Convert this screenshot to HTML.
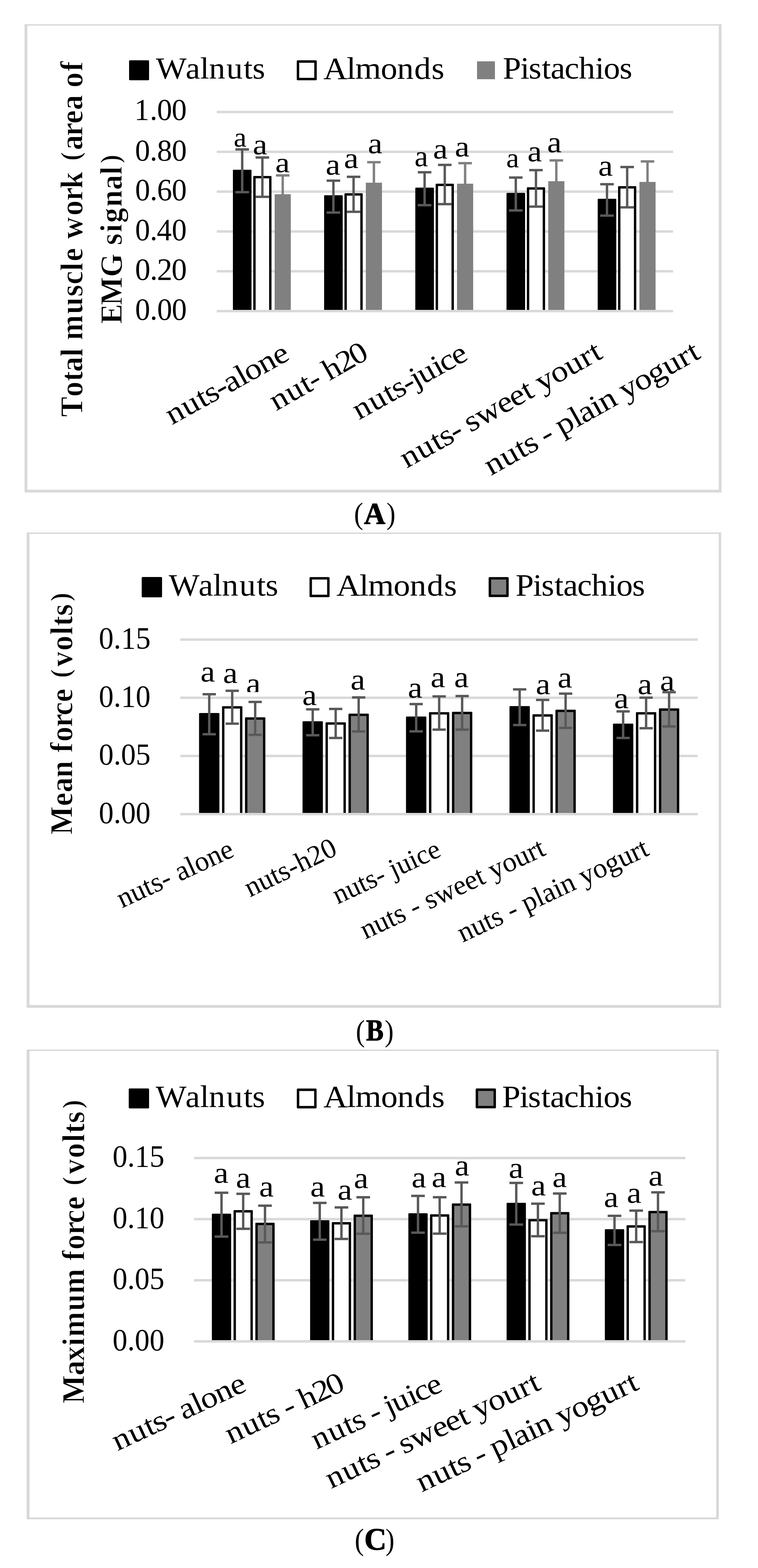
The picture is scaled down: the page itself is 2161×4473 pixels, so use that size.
<!DOCTYPE html><html><head><meta charset="utf-8"><title>Figure</title><style>html,body{margin:0;padding:0;background:#fff;overflow:hidden;}svg{display:block;}</style></head><body><svg width="2161" height="4473" viewBox="0 0 2161 4473" font-family="'Liberation Serif', serif" fill="#000"><defs><clipPath id="c1"><rect x="699.8" y="1933.7" width="47.0" height="40.5"/></clipPath></defs><rect x="70.00" y="69.00" width="1987.00" height="4.00" fill="#d9d9d9"/><rect x="70.00" y="1397.00" width="1987.00" height="8.00" fill="#d9d9d9"/><rect x="70.00" y="69.00" width="8.00" height="1336.00" fill="#d9d9d9"/><rect x="2049.00" y="69.00" width="8.00" height="1336.00" fill="#d9d9d9"/><rect x="618.00" y="316.00" width="1301.00" height="7.00" fill="#d9d9d9"/><rect x="618.00" y="429.60" width="1301.00" height="7.00" fill="#d9d9d9"/><rect x="618.00" y="543.20" width="1301.00" height="7.00" fill="#d9d9d9"/><rect x="618.00" y="656.80" width="1301.00" height="7.00" fill="#d9d9d9"/><rect x="618.00" y="770.40" width="1301.00" height="7.00" fill="#d9d9d9"/><rect x="664.00" y="484.20" width="53.00" height="403.30" fill="#000" rx="2"/><rect x="722.00" y="501.90" width="52.00" height="385.60" fill="#000" rx="2"/><rect x="728.80" y="508.70" width="38.40" height="378.80" fill="#fff"/><rect x="783.00" y="554.10" width="46.00" height="333.40" fill="#808080"/><rect x="924.00" y="557.00" width="53.00" height="330.50" fill="#000" rx="2"/><rect x="982.00" y="551.20" width="52.00" height="336.30" fill="#000" rx="2"/><rect x="988.80" y="558.00" width="38.40" height="329.50" fill="#fff"/><rect x="1043.00" y="521.20" width="46.00" height="366.30" fill="#808080"/><rect x="1184.00" y="535.30" width="53.00" height="352.20" fill="#000" rx="2"/><rect x="1242.00" y="524.00" width="52.00" height="363.50" fill="#000" rx="2"/><rect x="1248.80" y="530.80" width="38.40" height="356.70" fill="#fff"/><rect x="1303.00" y="524.00" width="46.00" height="363.50" fill="#808080"/><rect x="1444.00" y="550.30" width="53.00" height="337.20" fill="#000" rx="2"/><rect x="1502.00" y="534.20" width="52.00" height="353.30" fill="#000" rx="2"/><rect x="1508.80" y="541.00" width="38.40" height="346.50" fill="#fff"/><rect x="1563.00" y="516.90" width="46.00" height="370.60" fill="#808080"/><rect x="1704.00" y="567.10" width="53.00" height="320.40" fill="#000" rx="2"/><rect x="1762.00" y="531.00" width="52.00" height="356.50" fill="#000" rx="2"/><rect x="1768.80" y="537.80" width="38.40" height="349.70" fill="#fff"/><rect x="1823.00" y="519.00" width="46.00" height="368.50" fill="#808080"/><rect x="618.00" y="884.00" width="1301.00" height="7.00" fill="#d9d9d9"/><rect x="687.10" y="426.20" width="6.80" height="122.00" fill="#595959"/><rect x="671.20" y="422.80" width="38.60" height="6.80" fill="#595959"/><rect x="671.20" y="544.80" width="38.60" height="6.80" fill="#595959"/><rect x="744.60" y="449.30" width="6.80" height="112.20" fill="#595959"/><rect x="728.70" y="445.90" width="38.60" height="6.80" fill="#595959"/><rect x="728.70" y="558.10" width="38.60" height="6.80" fill="#595959"/><rect x="802.60" y="500.40" width="6.80" height="107.40" fill="#808080"/><rect x="786.70" y="497.00" width="38.60" height="6.80" fill="#808080"/><rect x="786.70" y="604.40" width="38.60" height="6.80" fill="#808080"/><rect x="947.10" y="515.40" width="6.80" height="91.00" fill="#595959"/><rect x="931.20" y="512.00" width="38.60" height="6.80" fill="#595959"/><rect x="931.20" y="603.00" width="38.60" height="6.80" fill="#595959"/><rect x="1004.60" y="504.40" width="6.80" height="99.80" fill="#595959"/><rect x="988.70" y="501.00" width="38.60" height="6.80" fill="#595959"/><rect x="988.70" y="600.80" width="38.60" height="6.80" fill="#595959"/><rect x="1062.60" y="462.70" width="6.80" height="117.00" fill="#808080"/><rect x="1046.70" y="459.30" width="38.60" height="6.80" fill="#808080"/><rect x="1046.70" y="576.30" width="38.60" height="6.80" fill="#808080"/><rect x="1207.10" y="491.40" width="6.80" height="93.90" fill="#595959"/><rect x="1191.20" y="488.00" width="38.60" height="6.80" fill="#595959"/><rect x="1191.20" y="581.90" width="38.60" height="6.80" fill="#595959"/><rect x="1264.60" y="470.40" width="6.80" height="111.90" fill="#595959"/><rect x="1248.70" y="467.00" width="38.60" height="6.80" fill="#595959"/><rect x="1248.70" y="578.90" width="38.60" height="6.80" fill="#595959"/><rect x="1322.60" y="465.50" width="6.80" height="117.00" fill="#808080"/><rect x="1306.70" y="462.10" width="38.60" height="6.80" fill="#808080"/><rect x="1306.70" y="579.10" width="38.60" height="6.80" fill="#808080"/><rect x="1467.10" y="506.50" width="6.80" height="93.90" fill="#595959"/><rect x="1451.20" y="503.10" width="38.60" height="6.80" fill="#595959"/><rect x="1451.20" y="597.00" width="38.60" height="6.80" fill="#595959"/><rect x="1524.60" y="485.30" width="6.80" height="104.10" fill="#595959"/><rect x="1508.70" y="481.90" width="38.60" height="6.80" fill="#595959"/><rect x="1508.70" y="586.00" width="38.60" height="6.80" fill="#595959"/><rect x="1582.60" y="457.60" width="6.80" height="118.60" fill="#808080"/><rect x="1566.70" y="454.20" width="38.60" height="6.80" fill="#808080"/><rect x="1566.70" y="572.80" width="38.60" height="6.80" fill="#808080"/><rect x="1727.10" y="525.50" width="6.80" height="89.60" fill="#595959"/><rect x="1711.20" y="522.10" width="38.60" height="6.80" fill="#595959"/><rect x="1711.20" y="611.70" width="38.60" height="6.80" fill="#595959"/><rect x="1784.60" y="476.50" width="6.80" height="115.00" fill="#595959"/><rect x="1768.70" y="473.10" width="38.60" height="6.80" fill="#595959"/><rect x="1768.70" y="588.10" width="38.60" height="6.80" fill="#595959"/><rect x="1842.60" y="460.50" width="6.80" height="117.00" fill="#808080"/><rect x="1826.70" y="457.10" width="38.60" height="6.80" fill="#808080"/><rect x="1826.70" y="574.10" width="38.60" height="6.80" fill="#808080"/><rect x="368.00" y="172.00" width="57.00" height="57.00" fill="#000" rx="3"/><rect x="846.00" y="172.00" width="57.00" height="57.00" fill="#000" rx="3"/><rect x="853.00" y="179.00" width="43.00" height="43.00" fill="#fff"/><rect x="1360.00" y="175.00" width="51.00" height="51.00" fill="#808080"/><rect x="76.00" y="1519.00" width="1980.00" height="4.00" fill="#d9d9d9"/><rect x="76.00" y="2867.00" width="1980.00" height="8.00" fill="#d9d9d9"/><rect x="76.00" y="1519.00" width="8.00" height="1356.00" fill="#d9d9d9"/><rect x="2049.00" y="1519.00" width="7.00" height="1356.00" fill="#d9d9d9"/><rect x="514.00" y="1821.00" width="1475.00" height="7.00" fill="#d9d9d9"/><rect x="514.00" y="1987.00" width="1475.00" height="7.00" fill="#d9d9d9"/><rect x="514.00" y="2153.00" width="1475.00" height="7.00" fill="#d9d9d9"/><rect x="567.50" y="2033.90" width="58.00" height="288.60" fill="#000" rx="2"/><rect x="633.00" y="2014.50" width="58.00" height="308.00" fill="#000" rx="2"/><rect x="639.80" y="2021.30" width="44.40" height="301.20" fill="#fff"/><rect x="698.50" y="2046.30" width="58.00" height="276.20" fill="#000" rx="2"/><rect x="705.30" y="2053.10" width="44.40" height="269.40" fill="#808080"/><rect x="862.50" y="2057.40" width="58.00" height="265.10" fill="#000" rx="2"/><rect x="928.00" y="2060.50" width="58.00" height="262.00" fill="#000" rx="2"/><rect x="934.80" y="2067.30" width="44.40" height="255.20" fill="#fff"/><rect x="993.50" y="2035.70" width="58.00" height="286.80" fill="#000" rx="2"/><rect x="1000.30" y="2042.50" width="44.40" height="280.00" fill="#808080"/><rect x="1157.50" y="2044.00" width="58.00" height="278.50" fill="#000" rx="2"/><rect x="1223.00" y="2031.50" width="58.00" height="291.00" fill="#000" rx="2"/><rect x="1229.80" y="2038.30" width="44.40" height="284.20" fill="#fff"/><rect x="1288.50" y="2030.60" width="58.00" height="291.90" fill="#000" rx="2"/><rect x="1295.30" y="2037.40" width="44.40" height="285.10" fill="#808080"/><rect x="1452.50" y="2014.30" width="58.00" height="308.20" fill="#000" rx="2"/><rect x="1518.00" y="2037.60" width="58.00" height="284.90" fill="#000" rx="2"/><rect x="1524.80" y="2044.40" width="44.40" height="278.10" fill="#fff"/><rect x="1583.50" y="2024.50" width="58.00" height="298.00" fill="#000" rx="2"/><rect x="1590.30" y="2031.30" width="44.40" height="291.20" fill="#808080"/><rect x="1747.50" y="2064.20" width="58.00" height="258.30" fill="#000" rx="2"/><rect x="1813.00" y="2031.50" width="58.00" height="291.00" fill="#000" rx="2"/><rect x="1819.80" y="2038.30" width="44.40" height="284.20" fill="#fff"/><rect x="1878.50" y="2020.80" width="58.00" height="301.70" fill="#000" rx="2"/><rect x="1885.30" y="2027.60" width="44.40" height="294.90" fill="#808080"/><rect x="514.00" y="2319.00" width="1475.00" height="7.00" fill="#d9d9d9"/><rect x="593.10" y="1980.40" width="6.80" height="114.10" fill="#595959"/><rect x="577.55" y="1977.00" width="37.90" height="6.80" fill="#595959"/><rect x="577.55" y="2091.10" width="37.90" height="6.80" fill="#595959"/><rect x="658.60" y="1970.60" width="6.80" height="93.80" fill="#595959"/><rect x="643.05" y="1967.20" width="37.90" height="6.80" fill="#595959"/><rect x="643.05" y="2061.00" width="37.90" height="6.80" fill="#595959"/><rect x="724.10" y="2002.40" width="6.80" height="93.90" fill="#595959"/><rect x="708.55" y="1999.00" width="37.90" height="6.80" fill="#595959"/><rect x="708.55" y="2092.90" width="37.90" height="6.80" fill="#595959"/><rect x="888.10" y="2023.50" width="6.80" height="73.90" fill="#595959"/><rect x="872.55" y="2020.10" width="37.90" height="6.80" fill="#595959"/><rect x="872.55" y="2094.00" width="37.90" height="6.80" fill="#595959"/><rect x="953.60" y="2022.40" width="6.80" height="82.80" fill="#595959"/><rect x="938.05" y="2019.00" width="37.90" height="6.80" fill="#595959"/><rect x="938.05" y="2101.80" width="37.90" height="6.80" fill="#595959"/><rect x="1019.10" y="1989.50" width="6.80" height="97.10" fill="#595959"/><rect x="1003.55" y="1986.10" width="37.90" height="6.80" fill="#595959"/><rect x="1003.55" y="2083.20" width="37.90" height="6.80" fill="#595959"/><rect x="1183.10" y="2008.50" width="6.80" height="77.90" fill="#595959"/><rect x="1167.55" y="2005.10" width="37.90" height="6.80" fill="#595959"/><rect x="1167.55" y="2083.00" width="37.90" height="6.80" fill="#595959"/><rect x="1248.60" y="1986.60" width="6.80" height="94.80" fill="#595959"/><rect x="1233.05" y="1983.20" width="37.90" height="6.80" fill="#595959"/><rect x="1233.05" y="2078.00" width="37.90" height="6.80" fill="#595959"/><rect x="1314.10" y="1985.60" width="6.80" height="95.80" fill="#595959"/><rect x="1298.55" y="1982.20" width="37.90" height="6.80" fill="#595959"/><rect x="1298.55" y="2078.00" width="37.90" height="6.80" fill="#595959"/><rect x="1478.10" y="1966.60" width="6.80" height="101.70" fill="#595959"/><rect x="1462.55" y="1963.20" width="37.90" height="6.80" fill="#595959"/><rect x="1462.55" y="2064.90" width="37.90" height="6.80" fill="#595959"/><rect x="1543.60" y="1996.60" width="6.80" height="87.70" fill="#595959"/><rect x="1528.05" y="1993.20" width="37.90" height="6.80" fill="#595959"/><rect x="1528.05" y="2080.90" width="37.90" height="6.80" fill="#595959"/><rect x="1609.10" y="1978.70" width="6.80" height="97.80" fill="#595959"/><rect x="1593.55" y="1975.30" width="37.90" height="6.80" fill="#595959"/><rect x="1593.55" y="2073.10" width="37.90" height="6.80" fill="#595959"/><rect x="1773.10" y="2029.40" width="6.80" height="75.80" fill="#595959"/><rect x="1757.55" y="2026.00" width="37.90" height="6.80" fill="#595959"/><rect x="1757.55" y="2101.80" width="37.90" height="6.80" fill="#595959"/><rect x="1838.60" y="1990.20" width="6.80" height="87.20" fill="#595959"/><rect x="1823.05" y="1986.80" width="37.90" height="6.80" fill="#595959"/><rect x="1823.05" y="2074.00" width="37.90" height="6.80" fill="#595959"/><rect x="1904.10" y="1974.50" width="6.80" height="97.80" fill="#595959"/><rect x="1888.55" y="1971.10" width="37.90" height="6.80" fill="#595959"/><rect x="1888.55" y="2068.90" width="37.90" height="6.80" fill="#595959"/><rect x="404.00" y="1646.00" width="58.00" height="58.00" fill="#000" rx="3"/><rect x="882.40" y="1646.20" width="57.20" height="57.30" fill="#000" rx="3"/><rect x="889.40" y="1653.20" width="43.20" height="43.30" fill="#fff"/><rect x="1393.10" y="1646.20" width="57.10" height="57.10" fill="#000" rx="3"/><rect x="1400.10" y="1653.20" width="43.10" height="43.10" fill="#808080"/><rect x="76.00" y="2994.00" width="1973.00" height="4.00" fill="#d7d7d7"/><rect x="76.00" y="4329.00" width="1973.00" height="5.00" fill="#d7d7d7"/><rect x="76.00" y="2994.00" width="8.00" height="1340.00" fill="#d7d7d7"/><rect x="2042.00" y="2994.00" width="7.00" height="1340.00" fill="#d7d7d7"/><rect x="553.00" y="3300.00" width="1401.00" height="7.00" fill="#d9d9d9"/><rect x="553.00" y="3474.33" width="1401.00" height="7.00" fill="#d9d9d9"/><rect x="553.00" y="3648.67" width="1401.00" height="7.00" fill="#d9d9d9"/><rect x="604.00" y="3462.30" width="55.00" height="364.20" fill="#000" rx="2"/><rect x="665.80" y="3452.10" width="55.00" height="374.40" fill="#000" rx="2"/><rect x="672.60" y="3458.90" width="41.40" height="367.60" fill="#fff"/><rect x="728.00" y="3488.10" width="55.00" height="338.40" fill="#000" rx="2"/><rect x="734.80" y="3494.90" width="41.40" height="331.60" fill="#808080"/><rect x="884.10" y="3481.10" width="55.00" height="345.40" fill="#000" rx="2"/><rect x="945.90" y="3486.30" width="55.00" height="340.20" fill="#000" rx="2"/><rect x="952.70" y="3493.10" width="41.40" height="333.40" fill="#fff"/><rect x="1008.10" y="3464.70" width="55.00" height="361.80" fill="#000" rx="2"/><rect x="1014.90" y="3471.50" width="41.40" height="355.00" fill="#808080"/><rect x="1164.20" y="3461.10" width="55.00" height="365.40" fill="#000" rx="2"/><rect x="1226.00" y="3464.00" width="55.00" height="362.50" fill="#000" rx="2"/><rect x="1232.80" y="3470.80" width="41.40" height="355.70" fill="#fff"/><rect x="1288.20" y="3433.00" width="55.00" height="393.50" fill="#000" rx="2"/><rect x="1295.00" y="3439.80" width="41.40" height="386.70" fill="#808080"/><rect x="1444.30" y="3431.20" width="55.00" height="395.30" fill="#000" rx="2"/><rect x="1506.10" y="3477.40" width="55.00" height="349.10" fill="#000" rx="2"/><rect x="1512.90" y="3484.20" width="41.40" height="342.30" fill="#fff"/><rect x="1568.30" y="3457.60" width="55.00" height="368.90" fill="#000" rx="2"/><rect x="1575.10" y="3464.40" width="41.40" height="362.10" fill="#808080"/><rect x="1724.40" y="3506.50" width="55.00" height="320.00" fill="#000" rx="2"/><rect x="1786.20" y="3495.30" width="55.00" height="331.20" fill="#000" rx="2"/><rect x="1793.00" y="3502.10" width="41.40" height="324.40" fill="#fff"/><rect x="1848.40" y="3454.30" width="55.00" height="372.20" fill="#000" rx="2"/><rect x="1855.20" y="3461.10" width="41.40" height="365.40" fill="#808080"/><rect x="553.00" y="3823.00" width="1401.00" height="7.00" fill="#d9d9d9"/><rect x="628.10" y="3402.50" width="6.80" height="125.10" fill="#595959"/><rect x="612.10" y="3399.10" width="38.80" height="6.80" fill="#595959"/><rect x="612.10" y="3524.20" width="38.80" height="6.80" fill="#595959"/><rect x="689.90" y="3405.60" width="6.80" height="99.80" fill="#595959"/><rect x="673.90" y="3402.20" width="38.80" height="6.80" fill="#595959"/><rect x="673.90" y="3502.00" width="38.80" height="6.80" fill="#595959"/><rect x="752.10" y="3439.40" width="6.80" height="104.80" fill="#595959"/><rect x="736.10" y="3436.00" width="38.80" height="6.80" fill="#595959"/><rect x="736.10" y="3540.80" width="38.80" height="6.80" fill="#595959"/><rect x="908.20" y="3431.50" width="6.80" height="104.90" fill="#595959"/><rect x="892.20" y="3428.10" width="38.80" height="6.80" fill="#595959"/><rect x="892.20" y="3533.00" width="38.80" height="6.80" fill="#595959"/><rect x="970.00" y="3444.40" width="6.80" height="89.90" fill="#595959"/><rect x="954.00" y="3441.00" width="38.80" height="6.80" fill="#595959"/><rect x="954.00" y="3530.90" width="38.80" height="6.80" fill="#595959"/><rect x="1032.20" y="3415.40" width="6.80" height="104.10" fill="#595959"/><rect x="1016.20" y="3412.00" width="38.80" height="6.80" fill="#595959"/><rect x="1016.20" y="3516.10" width="38.80" height="6.80" fill="#595959"/><rect x="1188.30" y="3411.50" width="6.80" height="104.90" fill="#595959"/><rect x="1172.30" y="3408.10" width="38.80" height="6.80" fill="#595959"/><rect x="1172.30" y="3513.00" width="38.80" height="6.80" fill="#595959"/><rect x="1250.10" y="3415.30" width="6.80" height="103.90" fill="#595959"/><rect x="1234.10" y="3411.90" width="38.80" height="6.80" fill="#595959"/><rect x="1234.10" y="3515.80" width="38.80" height="6.80" fill="#595959"/><rect x="1312.30" y="3373.20" width="6.80" height="125.10" fill="#595959"/><rect x="1296.30" y="3369.80" width="38.80" height="6.80" fill="#595959"/><rect x="1296.30" y="3494.90" width="38.80" height="6.80" fill="#595959"/><rect x="1468.40" y="3374.50" width="6.80" height="118.80" fill="#595959"/><rect x="1452.40" y="3371.10" width="38.80" height="6.80" fill="#595959"/><rect x="1452.40" y="3489.90" width="38.80" height="6.80" fill="#595959"/><rect x="1530.20" y="3433.70" width="6.80" height="92.90" fill="#595959"/><rect x="1514.20" y="3430.30" width="38.80" height="6.80" fill="#595959"/><rect x="1514.20" y="3523.20" width="38.80" height="6.80" fill="#595959"/><rect x="1592.40" y="3404.70" width="6.80" height="112.10" fill="#595959"/><rect x="1576.40" y="3401.30" width="38.80" height="6.80" fill="#595959"/><rect x="1576.40" y="3513.40" width="38.80" height="6.80" fill="#595959"/><rect x="1748.50" y="3468.40" width="6.80" height="83.10" fill="#595959"/><rect x="1732.50" y="3465.00" width="38.80" height="6.80" fill="#595959"/><rect x="1732.50" y="3548.10" width="38.80" height="6.80" fill="#595959"/><rect x="1810.30" y="3453.50" width="6.80" height="89.70" fill="#595959"/><rect x="1794.30" y="3450.10" width="38.80" height="6.80" fill="#595959"/><rect x="1794.30" y="3539.80" width="38.80" height="6.80" fill="#595959"/><rect x="1872.50" y="3401.40" width="6.80" height="110.90" fill="#595959"/><rect x="1856.50" y="3398.00" width="38.80" height="6.80" fill="#595959"/><rect x="1856.50" y="3508.90" width="38.80" height="6.80" fill="#595959"/><rect x="367.00" y="3105.00" width="58.00" height="57.00" fill="#000" rx="3"/><rect x="846.20" y="3105.30" width="56.40" height="56.60" fill="#000" rx="3"/><rect x="853.20" y="3112.30" width="42.40" height="42.60" fill="#fff"/><rect x="1356.10" y="3105.10" width="57.80" height="56.70" fill="#000" rx="3"/><rect x="1363.10" y="3112.10" width="43.80" height="42.70" fill="#808080"/><text transform="translate(447.085,224.322) scale(0.46421,0.43881)" x="-5.79 176.76 265.90 320.34 427.23 533.24 587.31" font-size="200">Walnuts</text><text transform="translate(924.247,224.539) scale(0.47342,0.44326)" x="-4.77 134.46 187.08 340.68 438.58 542.32 645.64" font-size="200">Almonds</text><text transform="translate(1434.019,224.335) scale(0.46725,0.44562)" x="-0.86 105.66 156.87 236.52 290.68 375.49 462.44 562.34 614.09 710.84" font-size="200">Pistachios</text><text transform="translate(385.468,342.040) scale(0.42829,0.43260)" x="-5.98 97.39 145.23 243.14" font-size="200">1.00</text><text transform="translate(385.790,457.627) scale(0.42814,0.43701)" x="-1.72 97.16 144.86 242.59" font-size="200">0.80</text><text transform="translate(385.991,571.321) scale(0.42738,0.43922)" x="-1.67 97.28 144.34 242.90" font-size="200">0.60</text><text transform="translate(385.991,685.419) scale(0.42609,0.43996)" x="-1.53 97.66 143.31 243.79" font-size="200">0.40</text><text transform="translate(386.422,798.319) scale(0.43793,0.43996)" x="-3.11 93.64 139.42 234.16" font-size="200">0.20</text><text transform="translate(385.991,912.321) scale(0.42844,0.43922)" x="-1.79 96.98 144.59 242.18" font-size="200">0.00</text><text transform="translate(234.600,1187.900) rotate(-90.000) scale(0.43152,0.45344)" x="-3.12 130.39 231.87 294.58 394.77 454.65 503.93 676.67 792.54 872.11 961.61 1025.41 1116.88 1173.22 1327.80 1425.79 1505.95 1620.38 1690.20 1760.42 1853.16 1935.10 2025.43 2121.97 2173.95 2281.48" y="0.00 0.00 0.00 0.00 0.00 0.00 0.00 0.00 0.00 0.00 0.00 0.00 0.00 0.00 0.00 0.00 0.00 0.00 -17.00 0.00 0.00 0.00 0.00 0.00 0.00 0.00" font-size="200" font-weight="bold" stroke="#fff" stroke-width="3.16">Total muscle work <tspan font-size="172.80">(</tspan>area of</text><text transform="translate(347.400,922.289) rotate(-90.000) scale(0.42844,0.44809)" x="-4.15 120.08 308.36 468.21 520.32 605.80 668.57 774.98 888.43 989.10 1065.59" y="0.00 0.00 0.00 0.00 0.00 0.00 0.00 0.00 0.00 0.00 -17.00" font-size="200" font-weight="bold" stroke="#fff" stroke-width="3.19">EMG signal<tspan font-size="172.80">)</tspan></text><text transform="translate(666.311,418.027) scale(0.41266,0.38632)" font-size="200">a</text><text transform="translate(720.639,439.575) scale(0.46582,0.41263)" font-size="200">a</text><text transform="translate(784.830,491.400) scale(0.46709,0.40000)" font-size="200">a</text><text transform="translate(928.513,497.864) scale(0.46962,0.41789)" font-size="200">a</text><text transform="translate(980.613,478.668) scale(0.46962,0.41579)" font-size="200">a</text><text transform="translate(1048.722,437.471) scale(0.46835,0.41474)" font-size="200">a</text><text transform="translate(1181.643,474.054) scale(0.43671,0.42316)" font-size="200">a</text><text transform="translate(1234.486,451.589) scale(0.47342,0.40526)" font-size="200">a</text><text transform="translate(1296.704,445.781) scale(0.47089,0.40947)" font-size="200">a</text><text transform="translate(1443.311,477.217) scale(0.41266,0.39158)" font-size="200">a</text><text transform="translate(1503.857,460.256) scale(0.46329,0.42211)" font-size="200">a</text><text transform="translate(1559.839,434.256) scale(0.46582,0.42211)" font-size="200">a</text><text transform="translate(1705.513,501.062) scale(0.46962,0.41895)" font-size="200">a</text><text transform="translate(490.658,1212.591) rotate(-29.112) scale(0.48194,0.42773)" x="-0.98 102.30 205.42 257.26 328.41 387.66 474.39 524.21 620.28 717.57" font-size="200">nuts-alone</text><text transform="translate(787.491,1172.908) rotate(-29.609) scale(0.47832,0.42755)" x="-0.62 103.39 207.10 257.41 316.75 363.95 457.59 544.12" font-size="200">nut- h20</text><text transform="translate(1023.216,1198.695) rotate(-29.029) scale(0.47428,0.42955)" x="0.04 105.41 210.21 263.34 335.82 393.71 443.07 543.75 590.01 671.46" font-size="200">nuts-juice</text><text transform="translate(1159.571,1336.709) rotate(-29.431) scale(0.48065,0.42977)" x="-0.61 103.44 207.17 259.48 331.12 390.47 434.32 509.58 651.91 735.07 823.34 875.22 919.35 1015.85 1115.64 1217.81 1287.95" font-size="200">nuts- sweet yourt</text><text transform="translate(1399.806,1357.603) rotate(-29.370) scale(0.48419,0.42998)" x="-0.95 102.39 205.56 257.44 330.21 371.73 430.74 478.04 578.32 627.94 714.52 765.86 863.72 907.38 1003.22 1097.56 1198.20 1299.78 1369.48" font-size="200">nuts - plain yogurt</text><text transform="translate(1009.335,1494.463) scale(0.39608,0.42944)" font-size="200">(</text><text transform="translate(1037.856,1493.529) scale(0.42199,0.42901)" font-size="200" font-weight="bold" stroke="#000" stroke-width="3.76" stroke-linejoin="round">A</text><text transform="translate(1101.681,1494.463) scale(0.38654,0.42944)" font-size="200">)</text><text transform="translate(483.691,1699.199) scale(0.46542,0.44657)" x="-5.79 176.76 265.90 320.34 427.23 533.24 587.31" font-size="200">Walnuts</text><text transform="translate(961.343,1699.348) scale(0.47189,0.43899)" x="-4.77 134.46 187.08 340.68 438.58 542.32 645.64" font-size="200">Almonds</text><text transform="translate(1470.117,1699.343) scale(0.46751,0.44133)" x="-0.86 105.66 156.87 236.52 290.68 375.49 462.44 562.34 614.09 710.84" font-size="200">Pistachios</text><text transform="translate(281.830,1849.583) scale(0.42126,0.43897)" font-size="200">0.15</text><text transform="translate(281.830,2015.668) scale(0.42126,0.44412)" font-size="200">0.10</text><text transform="translate(281.830,2181.188) scale(0.42126,0.43750)" font-size="200">0.05</text><text transform="translate(281.830,2347.568) scale(0.42126,0.44412)" font-size="200">0.00</text><text transform="translate(205.800,2381.636) rotate(-90.000) scale(0.42959,0.45496)" x="1.59 192.07 281.80 380.33 493.74 546.77 619.00 716.41 792.81 882.02 973.05 1042.40 1117.36 1222.87 1327.80 1386.95 1454.35 1550.65" y="0.00 0.00 0.00 0.00 0.00 0.00 0.00 0.00 0.00 0.00 0.00 -17.00 0.00 0.00 0.00 0.00 0.00 -17.00" font-size="200" font-weight="bold" stroke="#fff" stroke-width="3.17">Mean force <tspan font-size="172.80">(</tspan>volts<tspan font-size="172.80">)</tspan></text><text transform="translate(571.622,1944.156) scale(0.46835,0.42211)" font-size="200">a</text><text transform="translate(635.704,1948.452) scale(0.47089,0.42421)" font-size="200">a</text><g clip-path="url(#c1)"><text transform="translate(701.522,1977.956) scale(0.46835,0.42211)" font-size="200">a</text></g><text transform="translate(861.730,2011.252) scale(0.46709,0.42421)" font-size="200">a</text><text transform="translate(999.295,1966.956) scale(0.47215,0.42211)" font-size="200">a</text><text transform="translate(1162.630,1989.958) scale(0.46709,0.42105)" font-size="200">a</text><text transform="translate(1227.613,1960.452) scale(0.46962,0.42421)" font-size="200">a</text><text transform="translate(1294.730,1960.452) scale(0.46709,0.42421)" font-size="200">a</text><text transform="translate(1527.430,1980.354) scale(0.46709,0.42316)" font-size="200">a</text><text transform="translate(1589.730,1961.356) scale(0.46709,0.42211)" font-size="200">a</text><text transform="translate(1750.722,2019.956) scale(0.46835,0.42211)" font-size="200">a</text><text transform="translate(1817.630,1980.354) scale(0.46709,0.42316)" font-size="200">a</text><text transform="translate(1881.495,1970.056) scale(0.47215,0.42211)" font-size="200">a</text><text transform="translate(347.785,2590.882) rotate(-24.799) scale(0.40391,0.40391)" font-size="200">nuts- alone</text><text transform="translate(712.608,2560.116) rotate(-26.092) scale(0.40247,0.40247)" font-size="200">nuts-h20</text><text transform="translate(962.567,2580.050) rotate(-25.035) scale(0.39326,0.39326)" font-size="200">nuts- juice</text><text transform="translate(1041.857,2679.979) rotate(-25.101) scale(0.40069,0.40069)" font-size="200">nuts - sweet yourt</text><text transform="translate(1319.031,2688.985) rotate(-25.155) scale(0.40192,0.40192)" font-size="200">nuts - plain yogurt</text><text transform="translate(1014.506,2969.547) scale(0.38824,0.43222)" font-size="200">(</text><text transform="translate(1043.682,2967.900) scale(0.37280,0.43130)" font-size="200" font-weight="bold" stroke="#000" stroke-width="3.98" stroke-linejoin="round">B</text><text transform="translate(1096.704,2969.547) scale(0.38269,0.43222)" font-size="200">)</text><text transform="translate(446.687,3158.012) scale(0.46466,0.44234)" x="-5.79 176.76 265.90 320.34 427.23 533.24 587.31" font-size="200">Walnuts</text><text transform="translate(924.351,3158.238) scale(0.47509,0.44397)" x="-4.77 134.46 187.08 340.68 438.58 542.32 645.64" font-size="200">Almonds</text><text transform="translate(1431.907,3158.232) scale(0.46983,0.44705)" x="-0.86 105.66 156.87 236.52 290.68 375.49 462.44 562.34 614.09 710.84" font-size="200">Pistachios</text><text transform="translate(320.923,3328.183) scale(0.42216,0.43897)" font-size="200">0.15</text><text transform="translate(320.923,3502.861) scale(0.42216,0.44632)" font-size="200">0.10</text><text transform="translate(320.923,3676.661) scale(0.42216,0.44632)" font-size="200">0.05</text><text transform="translate(320.923,3852.061) scale(0.42216,0.44632)" font-size="200">0.00</text><text transform="translate(239.800,4004.956) rotate(-90.000) scale(0.42949,0.45420)" x="2.11 188.32 284.07 384.43 445.16 617.79 731.13 899.08 952.46 1025.17 1123.09 1199.91 1289.61 1381.04 1450.80 1526.29 1632.38 1737.76 1797.28 1865.08 1961.85" y="0.00 0.00 0.00 0.00 0.00 0.00 0.00 0.00 0.00 0.00 0.00 0.00 0.00 0.00 -17.00 0.00 0.00 0.00 0.00 0.00 -17.00" font-size="200" font-weight="bold" stroke="#fff" stroke-width="3.17">Maximum force <tspan font-size="172.80">(</tspan>volts<tspan font-size="172.80">)</tspan></text><text transform="translate(609.595,3374.252) scale(0.47215,0.42421)" font-size="200">a</text><text transform="translate(672.395,3388.452) scale(0.47215,0.42421)" font-size="200">a</text><text transform="translate(738.722,3413.352) scale(0.46835,0.42421)" font-size="200">a</text><text transform="translate(884.395,3413.352) scale(0.47215,0.42421)" font-size="200">a</text><text transform="translate(962.430,3422.252) scale(0.46709,0.42421)" font-size="200">a</text><text transform="translate(1008.630,3388.954) scale(0.46709,0.42316)" font-size="200">a</text><text transform="translate(1173.295,3386.956) scale(0.47215,0.42211)" font-size="200">a</text><text transform="translate(1230.486,3386.356) scale(0.47342,0.42211)" font-size="200">a</text><text transform="translate(1296.530,3353.254) scale(0.46709,0.42316)" font-size="200">a</text><text transform="translate(1450.277,3360.156) scale(0.47468,0.42211)" font-size="200">a</text><text transform="translate(1514.186,3410.356) scale(0.47342,0.42211)" font-size="200">a</text><text transform="translate(1574.730,3386.356) scale(0.46709,0.42211)" font-size="200">a</text><text transform="translate(1721.622,3442.860) scale(0.46835,0.42000)" font-size="200">a</text><text transform="translate(1786.930,3431.252) scale(0.46709,0.42421)" font-size="200">a</text><text transform="translate(1848.630,3381.960) scale(0.46709,0.42000)" font-size="200">a</text><text transform="translate(335.106,4139.583) rotate(-25.053) scale(0.48380,0.42938)" x="-0.98 102.30 205.42 257.26 328.41 387.39 430.74 517.47 567.29 663.36 760.65" font-size="200">nuts- alone</text><text transform="translate(657.872,4119.767) rotate(-25.309) scale(0.47994,0.42883)" x="-0.64 103.33 207.00 259.27 332.40 374.23 433.55 480.71 574.32 660.81" font-size="200">nuts - h20</text><text transform="translate(902.603,4135.552) rotate(-24.911) scale(0.47292,0.42832)" x="0.04 105.41 210.21 263.34 337.27 379.79 439.80 481.64 531.00 631.68 677.94 759.39" font-size="200">nuts - juice</text><text transform="translate(943.951,4247.472) rotate(-25.390) scale(0.48053,0.42966)" x="-0.61 103.44 207.17 259.48 332.66 374.52 433.88 477.72 552.98 695.31 778.48 866.75 918.62 962.76 1059.25 1159.04 1261.21 1331.35" font-size="200">nuts - sweet yourt</text><text transform="translate(1202.741,4257.394) rotate(-25.398) scale(0.48409,0.42989)" x="-0.95 102.39 205.56 257.44 330.21 371.73 430.74 478.04 578.32 627.94 714.52 765.86 863.72 907.38 1003.22 1097.56 1198.20 1299.78 1369.48" font-size="200">nuts - plain yogurt</text><text transform="translate(1011.235,4420.707) scale(0.39608,0.43556)" font-size="200">(</text><text transform="translate(1038.397,4420.307) scale(0.44034,0.44627)" font-size="200" font-weight="bold" stroke="#000" stroke-width="3.61" stroke-linejoin="round">C</text><text transform="translate(1098.904,4420.707) scale(0.38269,0.43556)" font-size="200">)</text></svg></body></html>
